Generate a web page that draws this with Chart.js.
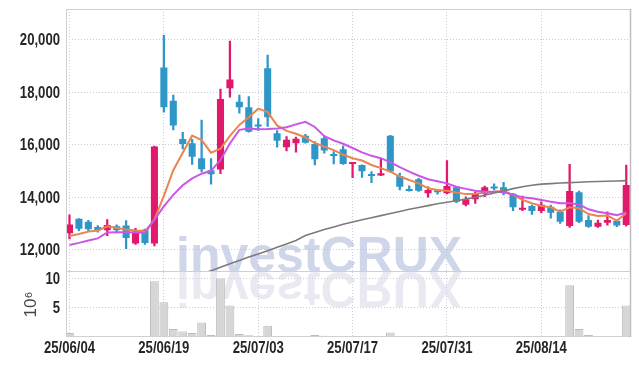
<!DOCTYPE html>
<html><head><meta charset="utf-8">
<script src="https://cdn.jsdelivr.net/npm/chart.js@4"></script>
<style>
html,body{margin:0;padding:0;background:#fff;width:639px;height:366px;overflow:hidden}
#c1{position:absolute;left:0;top:0}
#c2{position:absolute;left:0;top:272px}
</style></head><body>
<canvas id="c1" width="639" height="273"></canvas>
<canvas id="c2" width="639" height="94"></canvas>
<script>
// ---- data ----
const dates = ["25/06/04","25/06/05","25/06/09","25/06/10","25/06/11","25/06/12","25/06/13","25/06/16","25/06/17","25/06/18",
"25/06/19","25/06/20","25/06/23","25/06/24","25/06/25","25/06/26","25/06/27","25/06/30","25/07/01","25/07/02",
"25/07/03","25/07/04","25/07/07","25/07/08","25/07/09","25/07/10","25/07/11","25/07/14","25/07/15","25/07/16",
"25/07/17","25/07/18","25/07/21","25/07/22","25/07/23","25/07/24","25/07/25","25/07/28","25/07/29","25/07/30",
"25/07/31","25/08/01","25/08/04","25/08/05","25/08/06","25/08/07","25/08/08","25/08/11","25/08/12","25/08/13",
"25/08/14","25/08/18","25/08/19","25/08/20","25/08/21","25/08/22","25/08/25","25/08/26","25/08/27","25/08/28"];
const openP  = [12630,13180,13070,12870,12740,12890,12920,12240,12770,12240,18950,17680,16220,16060,15490,15030,15060,18160,17640,17435,16750,18920,16440,15910,16060,16350,16035,16250,15620,15830,15270,15230,14840,14830,16350,14810,14270,14690,14150,14210,14150,14380,13710,13920,14130,14360,14380,14130,13520,13670,13480,13640,13450,12900,14190,13130,12880,13030,13100,12940];
const highP  = [13330,13190,13120,12920,13145,12945,13110,12820,12790,15950,20180,17900,16480,16210,16940,15480,18130,19960,17900,17840,17000,19420,16540,16310,16300,16400,16120,16340,15740,15960,15330,15240,14980,15460,16360,14920,14440,14720,14400,14300,15400,14400,14020,14210,14430,14510,14570,14150,14050,13700,13830,13700,13520,15260,14240,13300,13130,13440,13140,15230];
const lowP   = [12415,12730,12700,12670,12540,12640,12040,12200,12200,12140,17250,16570,15840,15250,14970,14500,14900,17820,17210,16480,16550,16700,15910,15770,15720,16060,15230,15680,15270,15250,14750,14760,14560,14820,14950,14280,14230,14220,14000,14120,14130,13790,13670,13770,14020,14280,14090,13490,13490,13350,13410,13200,13000,12850,13030,12850,12850,12940,12880,12900];
const closeP = [12960,12800,12780,12740,12940,12740,12450,12690,12260,15940,17430,16740,16030,15550,15070,14880,17750,18490,17430,16500,16700,17050,16160,16190,16230,16080,15450,15780,15570,15270,15320,14990,14810,14920,14980,14400,14240,14250,14280,14190,14430,13830,13920,14150,14380,14330,14150,13620,13600,13480,13710,13410,13070,14240,13070,12880,13030,13130,12920,14470];
const maShort = [12520,12600,12690,12730,12890,12830,12770,12730,12700,13150,14050,15030,15700,16350,16180,15700,15850,16340,16760,17050,17380,17250,16740,16530,16420,16280,16070,15930,15800,15620,15490,15400,15230,15110,14980,14790,14660,14530,14340,14280,14250,14180,14120,14130,14180,14210,14250,14090,13900,13770,13670,13620,13450,13620,13580,13360,13290,13300,13110,13390];
const maMid   = [12180,12260,12350,12430,12660,12670,12670,12660,12650,13150,13650,14090,14460,14720,14900,15010,15420,16050,16570,16620,16590,16600,16620,16670,16780,16880,16680,16330,16170,16040,15880,15710,15580,15490,15330,15150,14980,14820,14690,14610,14530,14400,14320,14250,14210,14210,14200,14090,14000,13960,13900,13830,13770,13770,13730,13540,13450,13390,13320,13430];
const maLong  = [null,null,null,null,null,null,null,null,null,null,null,null,null,null,11070,11200,11330,11460,11590,11720,11840,11960,12090,12220,12350,12540,12660,12770,12870,12970,13060,13140,13220,13300,13380,13460,13540,13610,13680,13750,13810,13870,13930,14000,14080,14160,14240,14330,14400,14460,14500,14520,14545,14560,14575,14590,14600,14610,14620,14635];
const volumeM = [0.69,0.17,0.17,0.06,0.17,0.06,0.17,0.06,0.06,9.54,5.92,1.38,0.92,0.69,2.47,0.34,10.0,5.4,0.52,0.29,0.17,1.9,0.17,0.17,0.06,0.06,0.34,0.23,0.06,0.06,0.06,0.17,0.08,0.06,0.75,0.1,0.08,0.08,0.05,0.05,0.23,0.08,0.05,0.08,0.05,0.05,0.08,0.08,0.05,0.05,0.05,0.05,0.05,8.85,1.38,0.34,0.08,0.08,0.08,5.4];
const priceTicks = [12000,14000,16000,18000,20000];
const volumeTicks = [5,10];
const dateTickIdx = [0,10,20,30,40,50];

// ---- styles ----
const UP = '#e2186c', DOWN = '#2f97c8';
const GRID = '#c9cbdc';
const X_MIN = -0.37, X_MAX = 59.45;
const LABEL_FONT = 'bold 16px "Liberation Sans",Arial,sans-serif';
const NARROW = 0.82;

const candleColors = openP.map((o,i)=> closeP[i] >= o ? UP : DOWN);
const xy = arr => arr.map((v,i)=>({x:i,y:v}));

const framePlugin = {
  id:'frame',
  beforeDatasetsDraw(chart, args, opts){
    const {ctx, chartArea:a} = chart;
    ctx.save();
    ctx.beginPath(); ctx.rect(a.left,a.top,a.right-a.left,a.bottom-a.top); ctx.clip();
    ctx.font = 'bold 50px "Liberation Sans",Arial,sans-serif';
    ctx.textBaseline = 'alphabetic';
    if (opts.mirror) {
      ctx.translate(0, a.top);
      ctx.scale(1,-1);
      ctx.fillStyle = 'rgba(215,217,230,0.55)';
      ctx.fillText('investCRUX', 176, 0);
    } else {
      ctx.fillStyle = 'rgba(175,186,220,0.6)';
      ctx.fillText('investCRUX', 176, a.bottom);
    }
    ctx.restore();
  },
  afterDatasetsDraw(chart, args, opts){
    const {ctx, chartArea:a} = chart;
    ctx.save();
    ctx.strokeStyle = '#cfcfd4'; ctx.lineWidth = 1;
    ctx.beginPath();
    ctx.moveTo(a.left+0.5, a.top); ctx.lineTo(a.left+0.5, a.bottom);
    if (opts.topLine){ ctx.moveTo(a.left, a.top+0.5); ctx.lineTo(a.right, a.top+0.5); }
    if (opts.bottomLine){ ctx.moveTo(a.left, a.bottom-0.5); ctx.lineTo(a.right, a.bottom-0.5); }
    ctx.stroke();
    ctx.strokeStyle = '#bdbdc2'; ctx.lineWidth = 1.5;
    ctx.beginPath(); ctx.moveTo(a.right, a.top); ctx.lineTo(a.right, a.bottom); ctx.stroke();
    ctx.restore();
  },
  afterDraw(chart, args, opts){
    // tick labels in a narrow face (real text, positioned by the library's scales)
    const {ctx} = chart;
    const ys = chart.scales.y, xs = chart.scales.x;
    ctx.save();
    ctx.font = LABEL_FONT; ctx.fillStyle = '#262626';
    ctx.textBaseline = 'middle';
    ctx.textAlign = 'right';
    ys.ticks.forEach(t=>{
      const y = ys.getPixelForValue(t.value);
      ctx.save(); ctx.translate(ys.right - 6, y + 1); ctx.scale(NARROW,1);
      ctx.fillText(t.value.toLocaleString('en-US'), 0, 0); ctx.restore();
    });
    if (opts.xLabels) {
      ctx.textAlign = 'center';
      xs.ticks.forEach(t=>{
        const x = xs.getPixelForValue(t.value);
        ctx.save(); ctx.translate(x, chart.chartArea.bottom + 12); ctx.scale(NARROW,1);
        ctx.fillText(dates[t.value], 0, 0); ctx.restore();
      });
    }
    ctx.restore();
  }
};

const yAfterFit = s => { s.width = 66; s.paddingTop = 0; s.paddingBottom = 0; };
const xAfterFit = h => s => { s.height = h; s.paddingLeft = 0; s.paddingRight = 0; };
const gridOpts = {color:GRID, drawTicks:false, lineWidth:1, offset:false};

// ---- price chart ----
new Chart(document.getElementById('c1'), {
  type:'bar',
  data:{ datasets:[
    {type:'line', data:xy(maLong), borderColor:'#7b7b7b', borderWidth:1.6, pointRadius:0, order:0},
    {type:'line', data:xy(maMid), borderColor:'#cc55e8', borderWidth:2, pointRadius:0, order:0},
    {type:'line', data:xy(maShort), borderColor:'#ea8550', borderWidth:2, pointRadius:0, order:0},
    {type:'bar', data:openP.map((o,i)=>({x:i,y:[o,closeP[i]]})), backgroundColor:candleColors, borderWidth:0,
      barPercentage:0.75, categoryPercentage:1, grouped:false, minBarLength:2, order:1},
    {type:'bar', data:lowP.map((l,i)=>({x:i,y:[l,highP[i]]})), backgroundColor:candleColors, borderWidth:0,
      barThickness:1.6, grouped:false, order:2}
  ]},
  options:{
    responsive:false, animation:false, devicePixelRatio:1,
    layout:{padding:{left:0,right:8.5,top:9,bottom:1}},
    plugins:{legend:{display:false}, tooltip:{enabled:false}, frame:{topLine:true,bottomLine:true,xLabels:false}},
    scales:{
      x:{type:'linear', offset:false, min:X_MIN, max:X_MAX, afterFit:xAfterFit(0),
        afterBuildTicks:s=>{ s.ticks = dateTickIdx.map(v=>({value:v})); },
        ticks:{display:false}, grid:gridOpts, border:{display:false, dash:[1,2]}},
      y:{min:11150, max:21180, afterFit:yAfterFit,
        afterBuildTicks:s=>{ s.ticks = priceTicks.map(v=>({value:v})); },
        ticks:{display:false},
        grid:gridOpts, border:{display:false, dash:[1,2]}}
    }
  },
  plugins:[framePlugin]
});

// ---- volume chart ----
new Chart(document.getElementById('c2'), {
  type:'bar',
  data:{ datasets:[
    {data:xy(volumeM), backgroundColor:'#d6d6d6', borderColor:'#bcbcbc', borderWidth:1,
      barPercentage:1, categoryPercentage:0.93}
  ]},
  options:{
    responsive:false, animation:false, devicePixelRatio:1,
    layout:{padding:{left:0,right:8.5,top:0,bottom:7}},
    plugins:{legend:{display:false}, tooltip:{enabled:false}, frame:{mirror:true, bottomLine:true, xLabels:true}},
    scales:{
      x:{type:'linear', offset:false, min:X_MIN, max:X_MAX, afterFit:xAfterFit(22),
        afterBuildTicks:s=>{ s.ticks = dateTickIdx.map(v=>({value:v})); },
        ticks:{display:false},
        grid:gridOpts, border:{display:false, dash:[1,2]}},
      y:{min:0, max:11.1, afterFit:yAfterFit,
        afterBuildTicks:s=>{ s.ticks = volumeTicks.map(v=>({value:v})); },
        title:{display:true, text:'10⁶', color:'#444', font:{family:'"Liberation Sans",Arial,sans-serif', size:17}, padding:{top:21,bottom:0}},
        ticks:{display:false},
        grid:gridOpts, border:{display:false, dash:[1,2]}}
    }
  },
  plugins:[framePlugin]
});
</script>
</body></html>
